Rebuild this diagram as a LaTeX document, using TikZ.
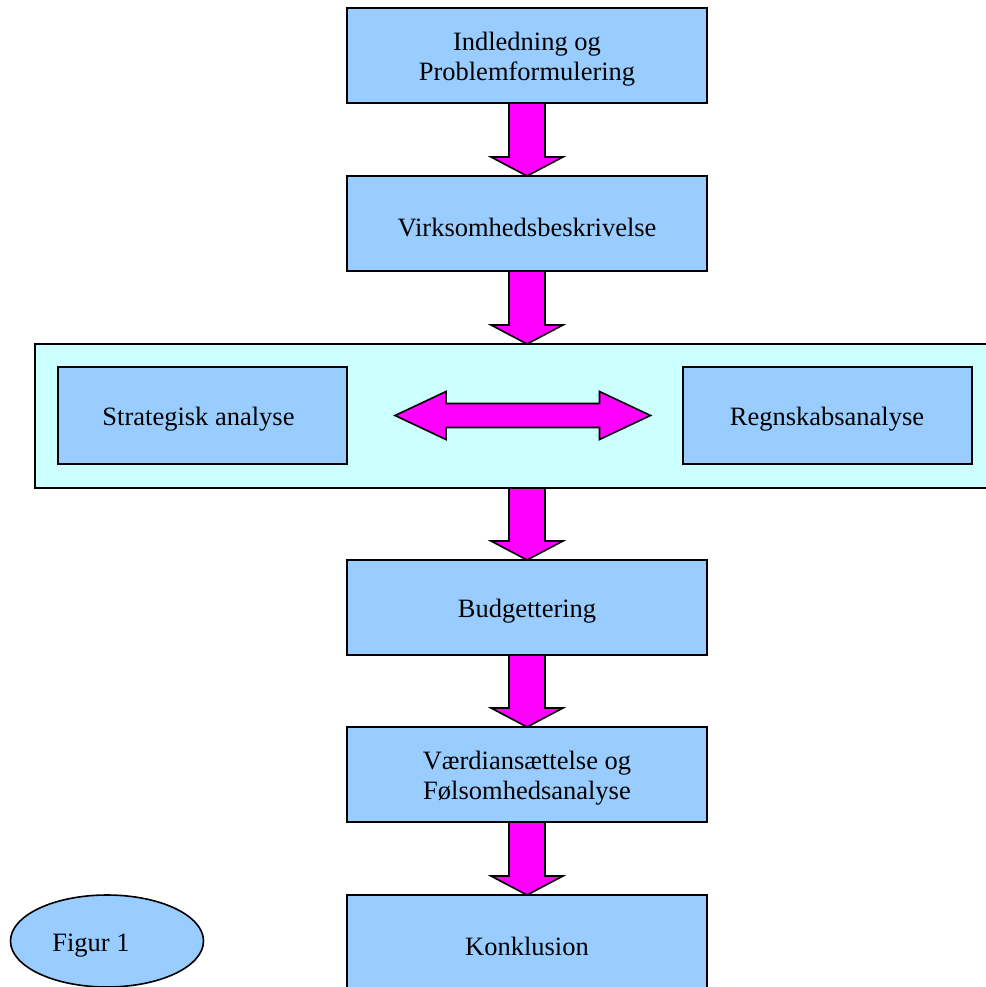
\documentclass[tikz,border=0pt]{standalone}
\usepackage{fontspec}
\setmainfont{Liberation Serif}
\usetikzlibrary{calc,shapes.geometric}
\definecolor{boxblue}{HTML}{99CCFF}
\definecolor{panelcyan}{HTML}{CCFFFF}
\definecolor{arrowmag}{HTML}{FF00FF}
\newcommand{\blockdown}[2]{%
  \filldraw[barrow] ($(#1)+(-18,0)$) -- ($(#2)+(-18,-19)$) -- ($(#2)+(-36,-19)$) -- (#2)
    -- ($(#2)+(36,-19)$) -- ($(#2)+(18,-19)$) -- ($(#1)+(18,0)$) -- cycle;}
\begin{document}
\begin{tikzpicture}[x=1pt,y=-1pt,
  txt/.style={font=\fontsize{26.5}{30}\selectfont, align=center, inner sep=0pt},
  box/.style={draw=black, line width=2pt, fill=boxblue, minimum width=360pt,
    minimum height=95pt, inner sep=0pt, outer sep=0pt},
  sidebox/.style={box, minimum width=289pt, minimum height=97pt},
  panel/.style={draw=black, line width=2pt, fill=panelcyan, minimum width=960pt,
    minimum height=144pt, inner sep=0pt, outer sep=0pt},
  barrow/.style={draw=black, line width=1.6pt, fill=arrowmag, line join=miter},
  oval/.style={ellipse, draw=black, line width=1.6pt, fill=boxblue,
    minimum width=193pt, minimum height=92pt, inner sep=0pt}]
\useasboundingbox (0,0) rectangle (985,987);
\node[panel] (panel) at (515,416) {};
\node[box] (b1) at (527,55.5) {};
\node[box] (b2) at (527,223.5) {};
\node[sidebox] (strat) at (202.5,415.5) {};
\node[sidebox] (regn) at (827,415.5) {};
\node[box] (b4) at (527,607.5) {};
\node[box] (b5) at (527,774.5) {};
\node[box] (b6) at (527,942.5) {};
\node[oval] (fig) at (107,941) {};
\node[txt] (b1t) at ($(b1.center)+(0,4)$) {Indledning og\\Problemformulering};
\node[txt] (b2t) at ($(b2.center)+(0,4)$) {Virksomhedsbeskrivelse};
\node[txt] (stratt) at ($(strat.center)+(-4,4)$) {Strategisk analyse};
\node[txt] (regnt) at ($(regn.center)+(0,4)$) {Regnskabsanalyse};
\node[txt] (b4t) at ($(b4.center)+(0,4)$) {Budgettering};
\node[txt] (b5t) at ($(b5.center)+(0,4)$) {Værdiansættelse og\\Følsomhedsanalyse};
\node[txt] (b6t) at ($(b6.center)+(0,4)$) {Konklusion};
\node[txt] (figlbl) at ($(fig.center)+(-16,5)$) {Figur 1};
\coordinate (p2n) at (b2.south |- panel.north);
\coordinate (p3s) at (b4.north |- panel.south);
\blockdown{b1.south}{b2.north}
\blockdown{b2.south}{p2n}
\blockdown{p3s}{b4.north}
\blockdown{b4.south}{b5.north}
\blockdown{b5.south}{b6.north}
\coordinate (dl) at ($(strat.east)+(48,0)$);
\coordinate (dr) at ($(regn.west)+(-32,0)$);
\filldraw[barrow] (dl) -- ($(dl)+(51,-24)$) -- ($(dl)+(51,-12)$) -- ($(dr)+(-51,-12)$)
  -- ($(dr)+(-51,-24)$) -- (dr) -- ($(dr)+(-51,24)$) -- ($(dr)+(-51,12)$)
  -- ($(dl)+(51,12)$) -- ($(dl)+(51,24)$) -- cycle;
\end{tikzpicture}
\end{document}
